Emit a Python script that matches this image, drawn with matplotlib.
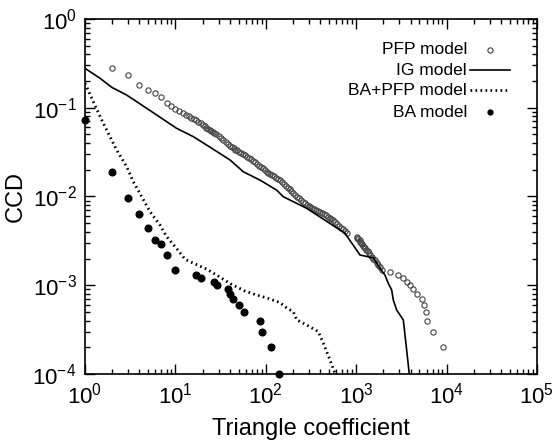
import numpy as np
import matplotlib
matplotlib.use("Agg")
import matplotlib.pyplot as plt
from matplotlib.ticker import LogLocator, FuncFormatter, NullFormatter

plt.rcParams['font.family'] = ['Liberation Sans', 'DejaVu Sans']
plt.rcParams['mathtext.default'] = 'regular'

# PFP model (open circles)
pfp_x = [2, 3, 4, 5, 6, 7,
         8, 9, 10, 11, 12, 13, 14, 15, 16, 17, 18, 19, 20, 21, 22, 23, 24, 25, 26, 27, 28,
         30, 32, 34, 36, 38, 40, 42, 44, 46, 48, 50, 53, 56, 59, 62, 65, 68, 72, 76, 80,
         84, 88, 92, 97, 102, 107, 112, 118, 124, 130, 137, 144, 151, 158, 166, 174, 183,
         192, 201, 211, 222, 233, 245, 257, 270, 283, 297, 312, 327, 343, 360, 378, 398,
         418, 439, 461, 484, 508, 533, 558, 586, 615, 646, 678, 712, 748, 785,
         1010, 1030, 1060, 1090, 1110, 1140, 1170, 1200, 1230, 1260, 1300, 1340, 1390,
         1440, 1490, 1540, 1610, 1680, 1750, 1830, 1910,
         2370, 2900, 3300, 3620, 3950, 4280, 4700, 5300, 5600, 5850, 6050, 7130, 9200]
pfp_y = [0.28, 0.231, 0.18, 0.158, 0.146, 0.132,
         0.1138, 0.105, 0.0977, 0.0918, 0.0873, 0.0836, 0.0803, 0.0773, 0.0746, 0.0723,
         0.0695, 0.0667, 0.0643, 0.0620, 0.0598, 0.0579, 0.0562, 0.0545, 0.0530, 0.0515,
         0.0501, 0.0475, 0.0451, 0.0429, 0.0409, 0.0391, 0.0375, 0.0361, 0.0348, 0.0338,
         0.0330, 0.0321, 0.0310, 0.0300, 0.0290, 0.0282, 0.0274, 0.0265, 0.0253, 0.0242,
         0.0232, 0.0223, 0.0215, 0.0207, 0.0199, 0.0191, 0.0185, 0.0180, 0.0174, 0.0168,
         0.0163, 0.0158, 0.0153, 0.0146, 0.0139, 0.0132, 0.0126, 0.0120, 0.0114, 0.0109,
         0.0104, 0.00997, 0.00955, 0.00912, 0.00874, 0.00838, 0.00802, 0.00782, 0.00762,
         0.00741, 0.00724, 0.00705, 0.00687, 0.00668, 0.00649, 0.00630, 0.00611, 0.00593,
         0.00575, 0.00558, 0.00543, 0.00518, 0.00493, 0.00469, 0.00447, 0.00425, 0.00404,
         0.00385,
         0.0035, 0.0034, 0.0033, 0.0032, 0.0031, 0.0030, 0.0029, 0.0028, 0.0027, 0.0026,
         0.0025, 0.0024, 0.0023, 0.0022, 0.0021, 0.0020, 0.0019, 0.0018, 0.0017, 0.0016,
         0.0015,
         0.0014, 0.0013, 0.0012, 0.0011, 0.0010, 0.0009, 0.0008, 0.0007, 0.0006, 0.0005,
         0.0004, 0.0003, 0.0002]

# IG model (solid line)
ig_x = [1, 1.466, 1.975, 2.89, 4.81, 10.3, 15.8, 24.1, 40.2, 56.4, 86.3, 132, 156,
        239, 283, 452, 752, 1102, 1545, 1833, 2083, 2266, 2470, 2573, 2805, 3322,
        3620, 3866]
ig_y = [0.278, 0.215, 0.17, 0.139, 0.0986, 0.0587, 0.0472, 0.036, 0.0258, 0.019,
        0.0153, 0.0118, 0.00995, 0.00802, 0.00736, 0.0054, 0.00385, 0.00219, 0.00204,
        0.00155, 0.0013, 0.00105, 0.000884, 0.000682, 0.000526, 0.000406, 0.000186,
        0.0001]

# BA+PFP model (dotted line)
bapfp_x = [1, 1.236, 1.47, 1.81, 2.24, 2.89, 3.42, 4.24, 5.24, 6.75, 8.0, 10.3, 12.8,
           15.8, 22.2, 30.4, 42, 58.9, 79.3, 107, 144, 172, 201, 220, 283, 381, 433,
           513, 582]
bapfp_y = [0.189, 0.117, 0.0793, 0.0515, 0.0334, 0.0217, 0.0147, 0.00995, 0.00675,
           0.00477, 0.00353, 0.0026, 0.00196, 0.00177, 0.00152, 0.00125, 0.00102,
           0.00086, 0.000776, 0.00071, 0.000636, 0.00055, 0.000503, 0.000406,
           0.000357, 0.0003, 0.000222, 0.000144, 0.000102]

# BA model (filled circles)
ba_x = [1, 2, 3, 4, 5, 6, 7, 8, 10, 17, 19, 27, 29, 38, 40, 43, 50, 58, 86, 91, 113, 141]
ba_y = [0.073, 0.019, 0.0097, 0.0063, 0.0044, 0.0032, 0.0029, 0.0022, 0.0015, 0.0013,
        0.0012, 0.0011, 0.0010, 0.0009, 0.0008, 0.0007, 0.0006, 0.0005, 0.0004, 0.0003,
        0.0002, 0.0001]

fig = plt.figure(figsize=(5.53, 4.44), dpi=100)
ax = fig.add_axes([0.1537, 0.1577, 0.8173, 0.7995])

pfp_style = dict(linestyle='none', marker='o', markersize=3.8, markerfacecolor='none',
                 markeredgecolor='#444444', markeredgewidth=0.8)
dot_style = dict(color='black', linewidth=2.0, linestyle=(0, (0.6, 1.2)))

ax.plot(pfp_x, pfp_y, **pfp_style)
ax.plot(ig_x, ig_y, color='black', linewidth=1.2)
ax.plot(bapfp_x, bapfp_y, **dot_style)
ax.plot(ba_x, ba_y, linestyle='none', marker='o', markersize=4.8, color='black',
        clip_on=False)

ax.set_xscale('log')
ax.set_yscale('log')
ax.set_xlim(1, 1e5)
ax.set_ylim(1e-4, 1)

fmt = FuncFormatter(lambda v, p: r'$10^{%d}$' % round(np.log10(v)))
for axis in (ax.xaxis, ax.yaxis):
    axis.set_major_locator(LogLocator(base=10, numticks=10))
    axis.set_minor_locator(LogLocator(base=10, subs=np.arange(2, 10), numticks=10))
    axis.set_major_formatter(fmt)
    axis.set_minor_formatter(NullFormatter())

ax.tick_params(which='both', direction='in', top=True, right=True, labelsize=16,
               width=1.0, colors='black')
ax.tick_params(which='major', length=7, pad=6)
ax.tick_params(which='minor', length=3.5)
for s in ax.spines.values():
    s.set_linewidth(1.2)

ax.set_xlabel('Triangle coefficient', fontsize=17, labelpad=7)
ax.set_ylabel('CCD', fontsize=17, labelpad=4)

# gnuplot-style key: right-aligned text, sample on the right
labels = ['PFP model', 'IG model', 'BA+PFP model', 'BA model']
key_y = [0.913, 0.856, 0.799, 0.737]
tx, sx0, sx1 = 0.845, 0.851, 0.940
for lab, yk in zip(labels, key_y):
    ax.text(tx, yk, lab, transform=ax.transAxes, ha='right', va='center', fontsize=12.5)
ax.plot([(sx0 + sx1) / 2], [key_y[0]], transform=ax.transAxes, **pfp_style)
ax.plot([sx0, sx1], [key_y[1]] * 2, transform=ax.transAxes, color='black', linewidth=1.2)
ax.plot([sx0, sx1], [key_y[2]] * 2, transform=ax.transAxes, **dot_style)
ax.plot([(sx0 + sx1) / 2], [key_y[3]], transform=ax.transAxes, marker='o',
        markersize=3.5, color='black', linestyle='none')

fig.savefig('out.png', dpi=100)
